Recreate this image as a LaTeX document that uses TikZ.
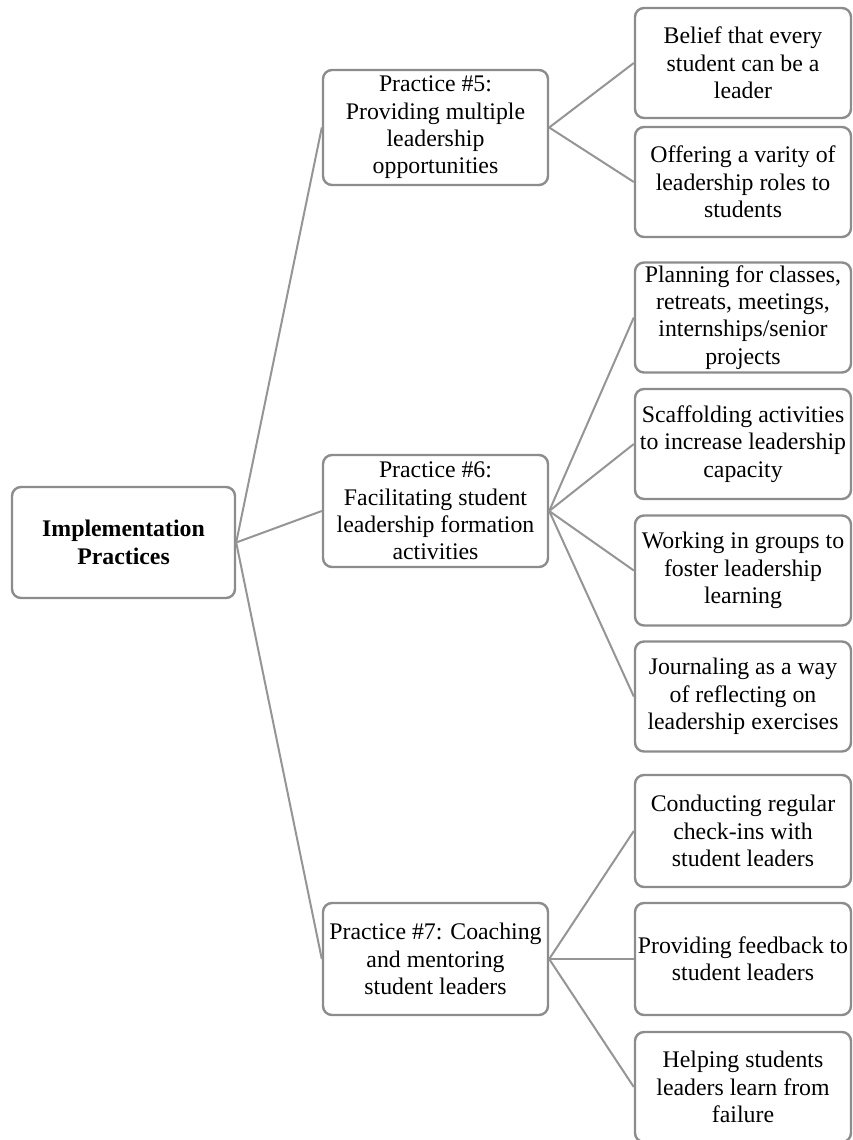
\documentclass[tikz,border=0pt]{standalone}
\usepackage{fontspec}
\setmainfont{Liberation Serif}
\begin{document}
\begin{tikzpicture}[x=1pt,y=-1pt,
  box/.style={draw=boxgray, line width=2.4pt, rounded corners=9pt, fill=white,
    align=center, inner sep=1pt, font=\fontsize{23.8}{27.3}\selectfont},
  midbox/.style={box, minimum width=225pt, minimum height=112pt},
  leafbox/.style={box, minimum width=216pt, minimum height=110pt},
  link/.style={draw=linegray, line width=2pt}]
\definecolor{boxgray}{HTML}{8C8C8C}
\definecolor{linegray}{HTML}{959595}
\useasboundingbox (0,0) rectangle (852,1140);

% root
\node[box, minimum width=223pt, minimum height=111pt, font=\fontsize{23.8}{27.3}\selectfont\bfseries]
  (root) at (123.5,542.5) {Implementation\\Practices};

% practices
\node[midbox, minimum height=115pt] (p5) at (435.5,127.5)
  {Practice \#5:\\Providing multiple\\leadership\\opportunities};
\node[midbox] (p6) at (435.5,511)
  {Practice \#6:\\Facilitating student\\leadership formation\\activities};
\node[midbox] (p7) at (435.5,959)
  {Practice \#7: Coaching\\and mentoring\\student leaders};

% details
\node[leafbox] (l1) at (743,63) {Belief that every\\student can be a\\leader};
\node[leafbox] (l2) at (743,182) {Offering a varity of\\leadership roles to\\students};
\node[leafbox] (l3) at (743,317.5) {Planning for classes,\\retreats, meetings,\\internships/senior\\projects};
\node[leafbox] (l4) at (743,444) {Scaffolding activities\\to increase leadership\\capacity};
\node[leafbox] (l5) at (743,570.5) {Working in groups to\\foster leadership\\learning};
\node[leafbox] (l6) at (743,696.5) {Journaling as a way\\of reflecting on\\leadership exercises};
\node[leafbox, minimum height=112pt] (l7) at (743,831) {Conducting regular\\check-ins with\\student leaders};
\node[leafbox, minimum height=112pt] (l8) at (743,959) {Providing feedback to\\student leaders};
\node[leafbox] (l9) at (743,1087) {Helping students\\leaders learn from\\failure};

% connectors
\foreach \p in {p5,p6,p7} \draw[link] (root.east) -- (\p.west);
\foreach \l in {l1,l2} \draw[link] (p5.east) -- (\l.west);
\foreach \l in {l3,l4,l5,l6} \draw[link] (p6.east) -- (\l.west);
\foreach \l in {l7,l8,l9} \draw[link] (p7.east) -- (\l.west);
\end{tikzpicture}
\end{document}
